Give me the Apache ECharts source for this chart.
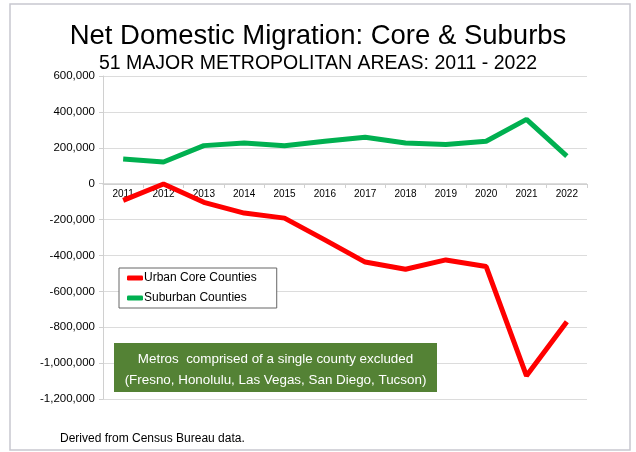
<!DOCTYPE html>
<html><head><meta charset="utf-8">
<script src="https://cdn.jsdelivr.net/npm/echarts@6/dist/echarts.min.js"></script>
<style>html,body{margin:0;padding:0;background:#fff}#c{width:636px;height:452px}</style>
</head><body><div id="c"></div>
<script>
const years = ['2011','2012','2013','2014','2015','2016','2017','2018','2019','2020','2021','2022'];
const urbanCore = [-93000, -2000, -104000, -164000, -192000, -313000, -437000, -477000, -425000, -462000, -1071000, -769000];
const suburban = [138000, 121000, 212000, 227000, 211000, 236000, 259000, 227000, 218000, 236000, 358000, 153000];
const seriesNames = ['Urban Core Counties', 'Suburban Counties'];
const noteLines = ['Metros  comprised of a single county excluded', '(Fresno, Honolulu, Las Vegas, San Diego, Tucson)'];

const FONT = 'Liberation Sans, Arial, sans-serif';
const chart = echarts.init(document.getElementById('c'));
chart.setOption({
  backgroundColor: '#fff',
  animation: false,
  textStyle: { fontFamily: FONT },
  title: [
    { text: 'Net Domestic Migration: Core & Suburbs', left: 'center', top: 17,
      textStyle: { fontFamily: FONT, fontSize: 27.5, fontWeight: 'normal', color: '#000' } },
    { text: '51 MAJOR METROPOLITAN AREAS: 2011 - 2022', left: 'center', top: 49,
      textStyle: { fontFamily: FONT, fontSize: 19.5, fontWeight: 'normal', color: '#000' } },
    { text: 'Derived from Census Bureau data.', left: 55, top: 428,
      textStyle: { fontFamily: FONT, fontSize: 12, fontWeight: 'normal', color: '#000' } }
  ],
  grid: { left: 103, right: 49, top: 76, bottom: 53, containLabel: false },
  legend: {
    orient: 'vertical', left: 119, top: 268, width: 145,
    data: seriesNames,
    backgroundColor: '#fff', borderColor: '#666', borderWidth: 1,
    padding: [4, 20, 4, 8], itemGap: 8,
    icon: 'roundRect', itemWidth: 16, itemHeight: 5,
    textStyle: { fontFamily: FONT, fontSize: 12, color: '#000', padding: [0,0,0,-4] }
  },
  xAxis: {
    type: 'category', data: years, boundaryGap: true,
    offset: -215,
    axisLine: { onZero: false, lineStyle: { color: '#d0d0d0' } },
    axisTick: { show: true, length: 4, lineStyle: { color: '#d0d0d0' } },
    axisLabel: { fontFamily: FONT, fontSize: 10, color: '#000', margin: 5 },
    splitLine: { show: false }
  },
  yAxis: {
    type: 'value', min: -1200000, max: 600000, interval: 200000,
    axisLine: { show: true, lineStyle: { color: '#d0d0d0' } },
    axisTick: { show: true, length: 4, lineStyle: { color: '#d0d0d0' } },
    axisLabel: { fontFamily: FONT, fontSize: 11.5, color: '#000', margin: 8,
      formatter: v => v.toLocaleString('en-US') },
    splitLine: { show: true, lineStyle: { color: '#dcdcdc' } }
  },
  series: [
    { name: seriesNames[0], type: 'line', data: urbanCore, symbol: 'none',
      lineStyle: { color: '#ff0000', width: 5 }, itemStyle: { color: '#ff0000' } },
    { name: seriesNames[1], type: 'line', data: suburban, symbol: 'none',
      lineStyle: { color: '#00b050', width: 5 }, itemStyle: { color: '#00b050' } }
  ],
  graphic: [
    { type: 'rect', shape: { x: 10, y: 4, width: 620, height: 446 },
      style: { fill: 'none', stroke: '#c8c8d0', lineWidth: 1.5 }, silent: true, z: 0 },
    { type: 'rect', shape: { x: 114, y: 343, width: 323, height: 49 },
      style: { fill: '#548235' }, z: 10 },
    { type: 'text', x: 275.5, y: 349, style: {
        text: noteLines.join('\n'), fill: '#fff', font: '13.4px ' + FONT,
        align: 'center', verticalAlign: 'top', lineHeight: 21 }, z: 11 }
  ]
});
</script></body></html>
